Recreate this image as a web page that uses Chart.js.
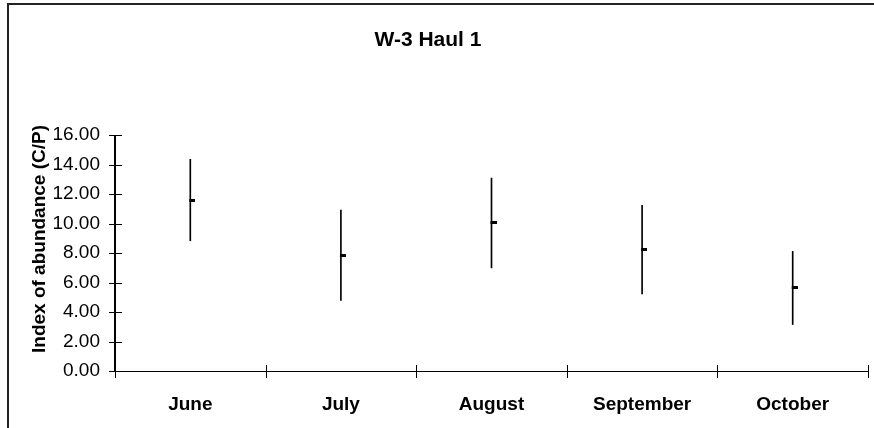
<!DOCTYPE html>
<html>
<head>
<meta charset="utf-8">
<script src="https://cdn.jsdelivr.net/npm/chart.js@4/dist/chart.umd.min.js"></script>
<style>
  html, body { margin:0; padding:0; background:#fff; }
  #wrap { width:874px; height:428px; position:relative; }
</style>
</head>
<body>
<div id="wrap"><canvas id="haul"></canvas></div>
<script>
// --- datos ---
const months   = ['June', 'July', 'August', 'September', 'October'];
const lowVals  = [8.83, 4.78, 6.99, 5.23, 3.15];
const highVals = [14.35, 10.91, 13.08, 11.23, 8.11];
const meanVals = [11.59, 7.83, 10.05, 8.26, 5.66];
const yTicks   = [0, 2, 4, 6, 8, 10, 12, 14, 16];

const chartTitle = 'W-3 Haul 1';
const yTitle = 'Index of abundance (C/P)';

// marca de la media: guion corto corrido a la derecha de la linea
const dash = document.createElement('canvas');
dash.width = 10; dash.height = 3;
(function(){ const c = dash.getContext('2d'); c.fillStyle = '#000'; c.fillRect(4, 0, 6, 3); })();

// marco, ejes con marcas cruzadas, titulo y titulo del eje Y
const decor = {
  id: 'decor',
  beforeDraw(chart){
    const ctx = chart.ctx;
    ctx.save();
    ctx.fillStyle = '#222';
    ctx.fillRect(7, 3, 2, 425);
    ctx.fillRect(7, 3, 867, 2);
    ctx.restore();
  },
  afterDraw(chart){
    const {ctx, scales: {x, y}} = chart;
    const left = Math.round(x.left);
    const right = Math.round(x.right);
    const yTop = Math.round(y.getPixelForValue(yTicks[yTicks.length - 1]));
    const yBot = Math.round(y.getPixelForValue(0));
    ctx.save();
    ctx.fillStyle = '#000';
    // eje Y
    ctx.fillRect(left - 1, yTop, 2, yBot - yTop + 1);
    yTicks.forEach(v => {
      const py = Math.round(y.getPixelForValue(v));
      ctx.fillRect(left - 6, py, 13, 1);
    });
    // eje X
    ctx.fillRect(left, yBot, right - left + 1, 1);
    const step = (x.right - x.left) / months.length;
    for (let i = 0; i <= months.length; i++){
      const px = Math.round(x.left + i * step);
      ctx.fillRect(px, yBot - 6, 1, 13);
    }

    ctx.textAlign = 'center';
    ctx.textBaseline = 'middle';
    ctx.font = 'bold 21px "Liberation Sans", Arial, sans-serif';
    ctx.fillText(chartTitle, 428, 40);

    ctx.translate(40, 239);
    ctx.rotate(-Math.PI / 2);
    ctx.font = 'bold 19px "Liberation Sans", Arial, sans-serif';
    ctx.fillText(yTitle, 0, 0);
    ctx.restore();
  }
};

new Chart(document.getElementById('haul'), {
  data: {
    labels: months,
    datasets: [
      {
        type: 'bar',
        data: months.map((m, i) => [lowVals[i], highVals[i]]),
        backgroundColor: '#000',
        borderWidth: 0,
        barThickness: 1,
        grouped: false
      },
      {
        type: 'line',
        data: meanVals,
        showLine: false,
        pointStyle: dash,
        pointRadius: 5,
        pointHoverRadius: 5
      }
    ]
  },
  options: {
    responsive: true,
    maintainAspectRatio: false,
    animation: false,
    events: [],
    layout: { padding: { top: 135, right: 6, bottom: 0, left: 0 } },
    plugins: { legend: { display: false }, tooltip: { enabled: false }, title: { display: false } },
    scales: {
      x: {
        offset: true,
        grid: { display: false, drawTicks: false },
        border: { display: false },
        ticks: {
          color: '#000', padding: 22,
          font: { family: '"Liberation Sans", Arial, sans-serif', size: 19, weight: 'bold' }
        },
        afterFit: s => { s.height = 57; }
      },
      y: {
        min: 0, max: 16,
        grid: { display: false, drawTicks: false },
        border: { display: false },
        ticks: {
          stepSize: 2, color: '#000', padding: 15,
          font: { family: '"Liberation Sans", Arial, sans-serif', size: 19 },
          callback: v => v.toFixed(2)
        },
        afterFit: s => { s.width = 115; }
      }
    }
  },
  plugins: [decor]
});
</script>
</body>
</html>
